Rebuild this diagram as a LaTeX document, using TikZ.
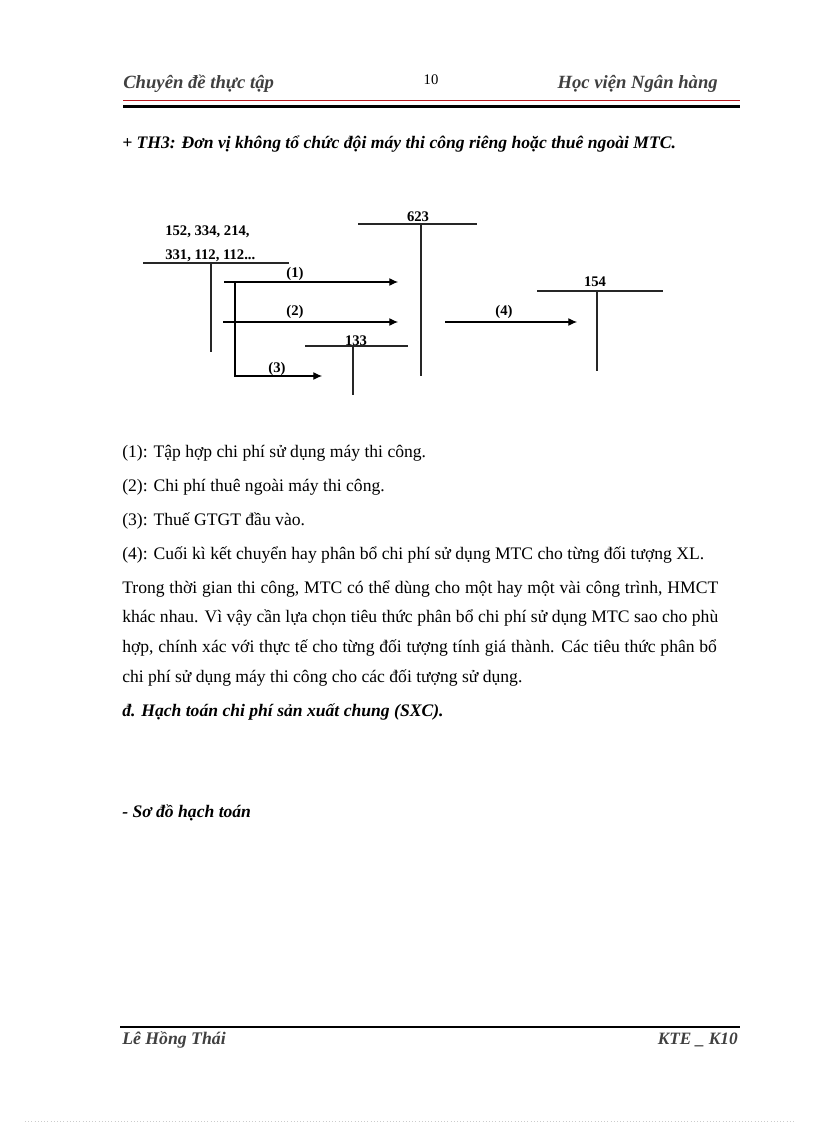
\documentclass[tikz,border=0pt]{standalone}
\usepackage{fontspec}
\setmainfont{Liberation Serif}
\usetikzlibrary{arrows.meta,positioning}
\definecolor{dodo}{rgb}{0.72, 0.10, 0.12}
\definecolor{xamdam}{rgb}{0.25, 0.25, 0.25}
\tikzset{
  sohieu/.style={
    inner sep=0pt,
    font=\fontsize{11}{13}\selectfont\bfseries
  },
  nhan/.style={
    inner sep=0pt,
    font=\fontsize{11}{13}\selectfont\bfseries
  },
  dong/.style={
    anchor=west,
    inner sep=0pt,
    font=\fontsize{13.2}{15}\selectfont
  },
  tieude/.style={
    anchor=west,
    inner sep=0pt,
    font=\fontsize{13.2}{15}\selectfont\bfseries\itshape
  },
  trang/.style={
    inner sep=0pt,
    text=xamdam,
    font=\fontsize{14}{16}\selectfont\bfseries\itshape
  },
  taikhoan/.style={
    line width=0.8pt,
    black!85
  },
  muiten/.style={
    -{Latex[length=2.3mm,width=2.1mm]},
    line width=0.8pt
  }
}

\begin{document}
\begin{tikzpicture}[x=0.75pt,y=-0.75pt]
\useasboundingbox[fill=white] (0,0) rectangle (816,1123);

% dau trang
\node[trang, anchor=west] (dt) at (123,84) {Chuyên đề thực tập};
\node[inner sep=0pt, font=\fontsize{11}{13}\selectfont] (so) at (431,80) {10};
\node[trang, anchor=east] (hv) at (718,84) {Học viện Ngân hàng};
\draw[dodo, line width=0.6pt] (123,100.5) -- (740,100.5);
\draw[black, line width=1.6pt] (123,106.5) -- (740,106.5);

\node[tieude] (th3) at (122,144) {+ TH3: Đơn vị không tổ chức đội máy thi công riêng hoặc thuê ngoài MTC.};

% so do
\node[sohieu, anchor=west] (tk152a) at (165,232) {152, 334, 214,};
\node[sohieu, anchor=west] (tk152b) at (165,256) {331, 112, 112...};
\draw[taikhoan] (143,263) -- (289,263);
\draw[taikhoan] (211,263) -- (211,352);

\node[sohieu] (tk623) at (418,217) {623};
\draw[taikhoan] (358,224) -- (477,224);
\draw[taikhoan] (421,224) -- (421,376);

\node[sohieu] (tk133) at (356,341) {133};
\draw[taikhoan] (305,346) -- (408,346);
\draw[taikhoan] (353,346) -- (353,395);

\node[sohieu] (tk154) at (595,282) {154};
\draw[taikhoan] (537,291) -- (663,291);
\draw[taikhoan] (597,291) -- (597,371);

\coordinate (d1) at (224,282);
\coordinate (c1) at (398,282);
\coordinate (d2) at (223,322);
\coordinate (c2) at (398,322);
\coordinate (r3) at (235,282);
\coordinate (g3) at (235,376);
\coordinate (c3) at (322,376);
\coordinate (d4) at (445,322);
\coordinate (c4) at (577,322);

\draw[muiten] (d1) -- (c1);
\draw[muiten] (d2) -- (c2);
\draw[muiten] (r3) -- (g3) -- (c3);
\draw[muiten] (d4) -- (c4);

\node[nhan] (n1) at (295,274) {(1)};
\node[nhan] (n2) at (295,312) {(2)};
\node[nhan] (n3) at (277,369) {(3)};
\node[nhan] (n4) at (504,312) {(4)};

% chu thich
\node[dong] (g1) at (122,453) {(1): Tập  hợp chi phí sử dụng máy thi công.};
\node[dong] (g2) at (122,487) {(2): Chi phí thuê ngoài máy thi công.};
\node[dong] (g3t) at (122,521) {(3): Thuế  GTGT  đầu vào.};
\node[dong] (g4) at (122,555) {(4): Cuối kì kết chuyển hay phân  bổ chi phí sử dụng MTC  cho từng đối tượng XL.};
\node[dong] (p1) at (122,589) {\makebox[447pt][s]{Trong thời gian thi công, MTC có thể dùng cho một hay một vài công trình, HMCT}};
\node[dong] (p2) at (122,618) {\makebox[447pt][s]{khác nhau. Vì vậy cần lựa chọn tiêu thức phân bổ chi phí sử dụng MTC sao cho phù}};
\node[dong] (p3) at (122,648) {\makebox[446pt][s]{hợp, chính xác với thực tế cho từng đối tượng tính giá thành. Các tiêu thức phân bổ}};
\node[dong] (p4) at (122,678) {chi phí sử dụng máy thi công cho các đối tượng sử dụng.};
\node[tieude] (mucd) at (122,712) {đ. Hạch toán chi phí sản xuất chung (SXC).};
\node[tieude] (sodo) at (122,813) {- Sơ đồ hạch toán};

% chan trang
\draw[black, line width=1.6pt] (120,1027) -- (740,1027);
\node[trang, anchor=west, font=\fontsize{13.3}{15}\selectfont\bfseries\itshape] (tg) at (122,1040) {Lê Hồng Thái};
\node[trang, anchor=east, font=\fontsize{13}{15}\selectfont\bfseries\itshape] (lop) at (738,1040) {KTE \_ K10};
\draw[gray!40, dotted] (25,1121) -- (795,1121);
\end{tikzpicture}
\end{document}
